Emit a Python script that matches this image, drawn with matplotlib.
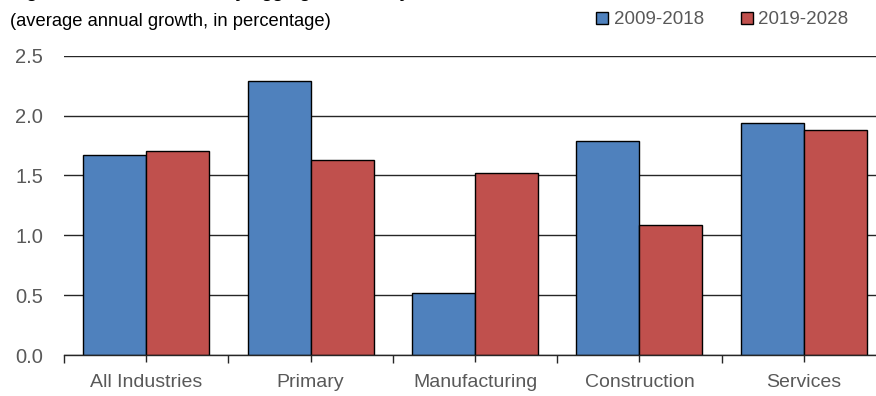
import matplotlib.pyplot as plt
from matplotlib.patches import Patch
from matplotlib.ticker import FixedLocator
import numpy as np

# Data: average annual growth by aggregate industry (%)
industries = ["All Industries", "Primary", "Manufacturing", "Construction", "Services"]
periods = ["2009-2018", "2019-2028"]
growth_2009_2018 = [1.67, 2.29, 0.52, 1.79, 1.94]
growth_2019_2028 = [1.70, 1.63, 1.52, 1.09, 1.88]

BLUE = "#4F81BD"
RED = "#C0504D"
GREY = "#595959"

plt.rcParams["font.family"] = ["Liberation Sans", "DejaVu Sans"]

fig = plt.figure(figsize=(8.76, 3.96), dpi=100)
ax = fig.add_axes([0.0731, 0.1035, 0.9384, 0.7558])

x = np.arange(len(industries))
width = 0.383

ax.bar(x - width / 2, growth_2009_2018, width, color=BLUE,
       edgecolor="black", linewidth=1.0, zorder=3)
ax.bar(x + width / 2, growth_2019_2028, width, color=RED,
       edgecolor="black", linewidth=1.0, zorder=3)

ax.set_xlim(-0.5, len(industries) - 0.5)
ax.set_ylim(0, 2.5)
ax.set_yticks(np.arange(0, 2.51, 0.5))
ax.set_yticklabels([f"{v:.1f}" for v in np.arange(0, 2.51, 0.5)])

ax.set_xticks(x)
ax.set_xticklabels(industries)
ax.xaxis.set_minor_locator(FixedLocator(np.arange(-0.5, len(industries), 1.0)))

ax.grid(axis="y", color="#262626", linewidth=1.0, zorder=0)
for side in ["left", "right", "top"]:
    ax.spines[side].set_visible(False)
ax.spines["bottom"].set_color("#262626")
ax.spines["bottom"].set_linewidth(1.0)
ax.spines["bottom"].set_zorder(4)

ax.tick_params(axis="y", length=0, pad=15, labelsize=14.5, labelcolor=GREY)
ax.tick_params(axis="x", which="major", length=5, width=1, color="#262626",
               pad=9, labelsize=14, labelcolor=GREY)
ax.tick_params(axis="x", which="minor", length=6, width=1, color="#262626")

# Title (runs off the top edge) and subtitle
fig.text(0.012, 1.0 + 1.5 / 396, "Figure: Real GDP Growth by Aggregate Industry",
         fontsize=12.5, fontweight="bold", ha="left", va="baseline")
fig.text(0.011, 1 - 26 / 396, "(average annual growth, in percentage)",
         fontsize=13.2, ha="left", va="baseline", color="black")

handles = [Patch(facecolor=BLUE, edgecolor="black", linewidth=1.0),
           Patch(facecolor=RED, edgecolor="black", linewidth=1.0)]
leg = fig.legend(handles, periods, loc="center right",
                 bbox_to_anchor=(0.977, 1 - 20 / 396), ncol=2, frameon=False,
                 fontsize=13.5, handlelength=0.64, handleheight=0.64,
                 handletextpad=0.27, columnspacing=2.0, borderaxespad=0)
for t in leg.get_texts():
    t.set_color(GREY)

fig.savefig("out.png", dpi=100)
